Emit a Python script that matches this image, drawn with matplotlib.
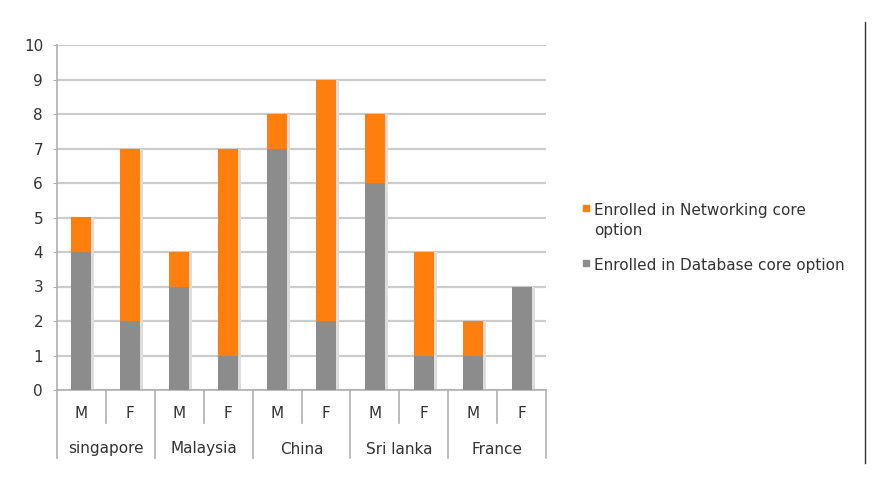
import numpy as np
import matplotlib.pyplot as plt
from matplotlib.lines import Line2D
from matplotlib.patches import Rectangle

countries = ["singapore", "Malaysia", "China", "Sri lanka", "France"]
genders = ["M", "F"]
database = [4, 2, 3, 1, 7, 2, 6, 1, 1, 3]
networking = [1, 5, 1, 6, 1, 7, 2, 3, 1, 0]
legend_labels = ["Enrolled in Networking core\noption", "Enrolled in Database core option"]

orange = "#ff7f0e"
grey = "#8c8c8c"
line_col = "#b0b0b0"
txt_col = "#333333"
fs = 11

W, H = 893, 498
fig = plt.figure(figsize=(W / 100, H / 100), dpi=100)
ax = fig.add_axes([57 / W, 1 - 390 / H, (546 - 57) / W, (390 - 45) / H])

x = np.arange(len(database))
db = np.array(database)
net = np.array(networking)
bw = 0.41
# soft shadow on right side of bars
ax.bar(x + 0.06, db + net, bw, color="#dddddd", zorder=2)
ax.bar(x, db, bw, color=grey, zorder=3)
ax.bar(x, net, bw, bottom=db, color=orange, zorder=3)

ax.set_xlim(-0.5, len(x) - 0.5)
ax.set_ylim(0, 10)
ax.set_yticks(range(0, 11))
ax.yaxis.grid(True, color="#cccccc", lw=1.6, zorder=1)
ax.set_axisbelow(True)
ax.tick_params(axis="y", length=3, color=line_col, labelsize=fs, labelcolor=txt_col, pad=7)
ax.tick_params(axis="x", length=0, labelbottom=False)
for s in ["top", "right"]:
    ax.spines[s].set_visible(False)
for s in ["left", "bottom"]:
    ax.spines[s].set_color(line_col)
    ax.spines[s].set_linewidth(1.2)

# two-level category labels
tr = ax.get_xaxis_transform()
row1 = -(414 - 390) / 345
row2 = -(449 - 390) / 345
d1 = -(423 - 390) / 345
d2 = -(458 - 390) / 345
for i in x:
    ax.text(i, row1, genders[i % 2], transform=tr, ha="center", va="center",
            fontsize=fs, color=txt_col)
for j, c in enumerate(countries):
    ax.text(2 * j + 0.5, row2, c, transform=tr, ha="center", va="center",
            fontsize=fs, color=txt_col)
for j in range(len(countries) + 1):
    ax.add_line(Line2D([2 * j - 0.5] * 2, [0, d2], transform=tr, color=line_col,
                       lw=1.2, clip_on=False))
    if j < len(countries):
        ax.add_line(Line2D([2 * j + 0.5] * 2, [0, d1], transform=tr, color=line_col,
                           lw=1.2, clip_on=False))

# legend
leg_y = [1 - 212 / H, 1 - 267 / H]
for col, lab, yy in zip([orange, grey], legend_labels, leg_y):
    fig.add_artist(Rectangle((583 / W, yy + 1 / H), 6 / W, 6 / H, color=col,
                             transform=fig.transFigure))
    fig.text(594 / W, yy + 9 / H, lab, ha="left", va="top", fontsize=fs,
             color=txt_col, linespacing=1.4)

fig.add_artist(Line2D([865 / W] * 2, [1 - 22 / H, 1 - 463 / H],
                      transform=fig.transFigure, color="#333333", lw=1))

fig.savefig("out.png", dpi=100)
